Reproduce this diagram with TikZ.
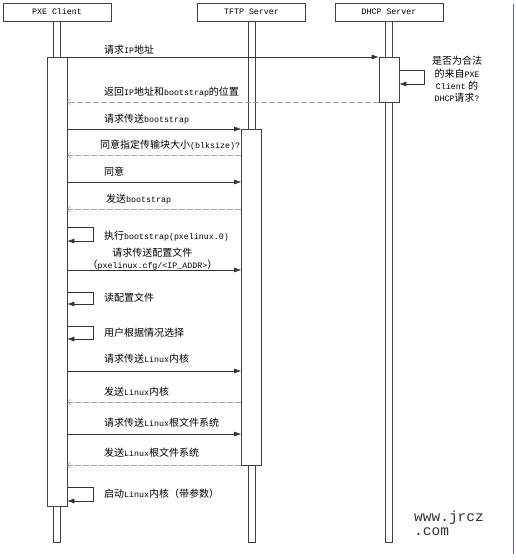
\documentclass[tikz,border=0pt]{standalone}
\usepackage{fontspec}
\setmainfont{Noto Sans CJK SC}
\newfontfamily\lat[Scale=0.83]{Liberation Mono}
\newfontfamily\wm{Liberation Mono}
\usetikzlibrary{arrows.meta,positioning}

\begin{document}
\begin{tikzpicture}[x=1pt, y=-1pt,
      head/.style={
        rectangle,
        draw=black!75, line width=0.6pt,
        minimum width=108pt,
        minimum height=18pt,
        inner sep=0pt,
        font=\lat\fontsize{10}{12}\selectfont
      },
      life/.style={
        rectangle,
        draw=black!75, line width=0.6pt,
        minimum width=7pt,
        inner sep=0pt
      },
      act/.style={
        rectangle,
        draw=black!75, line width=0.6pt, fill=white,
        minimum width=20pt,
        inner sep=0pt
      },
      call/.style={
        -{Latex[length=7pt,width=5pt]},
        draw=black!80, line width=0.6pt
      },
      reply/.style={
        -{Straight Barb[length=3pt,width=6pt]},
        draw=black!35, line width=0.6pt, dash pattern=on 6pt off 2pt
      },
      lbl/.style={
        anchor=west, inner sep=0pt,
        font=\fontsize{10}{12.3}\selectfont
      }
    ]
      \useasboundingbox (0,0) rectangle (515,560);
      \node[head] (pxe) at (57,12) {PXE Client};
      \node[head] (tftp) at (251.5,12) {TFTP Server};
      \node[head] (dhcp) at (389,12) {DHCP Server};
      \node[life, minimum height=521pt, below=0pt of pxe] (pxeline) {};
      \node[life, minimum height=521pt, below=0pt of tftp] (tftpline) {};
      \node[life, minimum height=521pt, below=0pt of dhcp] (dhcpline) {};
      \node[act, anchor=north, minimum height=449pt] (pxeact) at (pxe.south |- 0,57) {};
      \node[act, anchor=north, minimum height=336pt] (tftpact) at (tftp.south |- 0,129) {};
      \node[act, anchor=north, minimum height=45pt] (dhcpact) at (dhcp.south |- 0,57) {};

      \draw[call] (pxeact.east |- 0,57) -- (dhcpact.west |- 0,57);
      \node[lbl] (askip) at (104,50) {请求{\lat IP}地址};
      \draw[call] (dhcpact.east |- 0,70) -| ++(25,14) -- (dhcpact.east |- 0,84);
      \node[lbl, anchor=center, align=center] (check) at (457,79.5) {是否为合法\\的来自{\lat PXE}\\{\lat Client} 的\\{\lat DHCP}请求{\lat ?}};
      \draw[reply] (dhcpact.west |- 0,102) -- (pxeact.east |- 0,102);
      \node[lbl] (giveip) at (104,92) {返回{\lat IP}地址和{\lat bootstrap}的位置};

      \draw[call] (pxeact.east |- 0,129) -- (tftpact.west |- 0,129);
      \node[lbl] (askboot) at (104,119) {请求传送{\lat bootstrap}};
      \draw[reply] (tftpact.west |- 0,155) -- (pxeact.east |- 0,155);
      \node[lbl] (blksize) at (100,145) {同意指定传输块大小{\lat (blksize)?}};
      \draw[call] (pxeact.east |- 0,182) -- (tftpact.west |- 0,182);
      \node[lbl] (agree) at (104,172) {同意};
      \draw[reply] (tftpact.west |- 0,209) -- (pxeact.east |- 0,209);
      \node[lbl] (sendboot) at (106,199) {发送{\lat bootstrap}};

      \draw[call] (pxeact.east |- 0,227) -| ++(26,14) -- (pxeact.east |- 0,241);
      \node[lbl] (runboot) at (104,236) {执行{\lat bootstrap(pxelinux.0)}};
      \draw[call] (pxeact.east |- 0,270) -- (tftpact.west |- 0,270);
      \node[lbl, anchor=center, align=center] (askcfg) at (152.5,259) {请求传送配置文件\\（{\lat pxelinux.cfg/<IP\_ADDR>}）};
      \draw[call] (pxeact.east |- 0,292) -| ++(26,12) -- (pxeact.east |- 0,304);
      \node[lbl] (readcfg) at (104,298) {读配置文件};
      \draw[call] (pxeact.east |- 0,326) -| ++(26,13) -- (pxeact.east |- 0,339);
      \node[lbl] (choose) at (104,333) {用户根据情况选择};

      \draw[call] (pxeact.east |- 0,371) -- (tftpact.west |- 0,371);
      \node[lbl] (askkernel) at (104,359) {请求传送{\lat Linux}内核};
      \draw[reply] (tftpact.west |- 0,402) -- (pxeact.east |- 0,402);
      \node[lbl] (sendkernel) at (104,392) {发送{\lat Linux}内核};
      \draw[call] (pxeact.east |- 0,434) -- (tftpact.west |- 0,434);
      \node[lbl] (askroot) at (104,423) {请求传送{\lat Linux}根文件系统};
      \draw[reply] (tftpact.west |- 0,465) -- (pxeact.east |- 0,465);
      \node[lbl] (sendroot) at (104,453) {发送{\lat Linux}根文件系统};
      \draw[call] (pxeact.east |- 0,487) -| ++(26,14) -- (pxeact.east |- 0,501);
      \node[lbl] (boot) at (104,494) {启动{\lat Linux}内核（带参数）};

      \node[anchor=north west, align=left, inner sep=0pt, text=black!80,
        font=\wm\fontsize{14.5}{14}\selectfont] (site) at (414,511) {www.jrcz\\.com};
      \draw[color={rgb,255:red,80;green,110;blue,150}, line width=0.8pt] (513,4) -- (513,554);
    \end{tikzpicture}
\end{document}
